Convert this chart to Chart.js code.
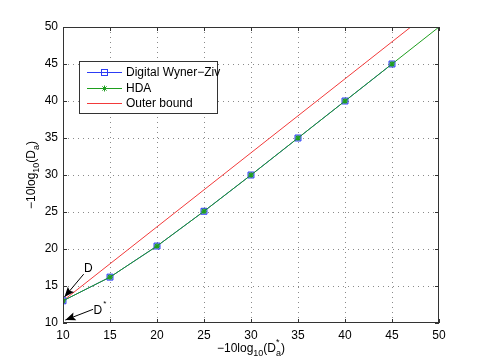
<!DOCTYPE html>
<html>
<head>
<meta charset="utf-8">
<script src="https://cdn.jsdelivr.net/npm/chart.js@4"></script>
<style>
  html, body { margin: 0; padding: 0; background: #fff; }
  #wrap { width: 485px; height: 364px; }
</style>
</head>
<body>
<div id="wrap"><canvas id="myChart"></canvas></div>
<script>
// data
let xVals = [10, 15, 20, 25, 30, 35, 40, 45];
let wynerZiv = [13, 16.2, 20.4, 25.1, 30, 35, 40, 45];
let hdaX = [10, 15, 20, 25, 30, 35, 40, 45, 50];
let hdaVals = [13, 16.2, 20.4, 25.1, 30, 35, 40, 45, 50];
let boundX = [10, 15, 20, 25, 30, 35, 40, 45, 47];
let boundVals = [13, 18, 23, 28, 33, 38, 43, 48, 50];
let tickVals = [10, 15, 20, 25, 30, 35, 40, 45, 50];

// arrow notes: [label, text x, text y, tail x, tail y, tip x, tip y]
let notes = [
  ["D", 12.7, 17.4, 12.2, 16.6, 10.15, 13.5],
  ["D*", 13.7, 11.7, 13.2, 11.85, 10.25, 10.4]
];

const FONT = "Liberation Sans, Arial, sans-serif";
const blue = "#2c3cf5";
const green = "#1e9e1e";
const red = "#f23a3a";

function pts(xs, ys) {
  return xs.map((x, i) => ({ x: x, y: ys[i] }));
}

function arrow(ctx, x1, y1, x2, y2) {
  ctx.beginPath();
  ctx.moveTo(x1, y1);
  ctx.lineTo(x2, y2);
  ctx.stroke();
  let a = Math.atan2(y2 - y1, x2 - x1);
  let len = 11, w = 0.38;
  ctx.beginPath();
  ctx.moveTo(x2, y2);
  ctx.lineTo(x2 - len * Math.cos(a - w), y2 - len * Math.sin(a - w));
  ctx.lineTo(x2 - len * 0.75 * Math.cos(a), y2 - len * 0.75 * Math.sin(a));
  ctx.lineTo(x2 - len * Math.cos(a + w), y2 - len * Math.sin(a + w));
  ctx.closePath();
  ctx.fill();
}

// text runs: [text, kind] kind: 0 normal, 1 subscript, 2 superscript
function drawRuns(ctx, runs, cx, cy) {
  let big = "12px " + FONT, small = "9px " + FONT;
  let total = 0;
  for (let r of runs) {
    ctx.font = r[1] ? small : big;
    if (r[1] !== 2) total += ctx.measureText(r[0]).width;
  }
  let x = cx - total / 2;
  ctx.textAlign = "left";
  ctx.textBaseline = "middle";
  for (let r of runs) {
    ctx.font = r[1] ? small : big;
    let dy = r[1] === 1 ? 5 : r[1] === 2 ? -6 : 0;
    ctx.fillText(r[0], x, cy + dy);
    if (r[1] !== 2) x += ctx.measureText(r[0]).width;
  }
}

const grid = {
  id: "dotgrid",
  beforeDatasetsDraw(chart) {
    const ctx = chart.ctx;
    const a = chart.chartArea;
    const xs = chart.scales.x, ys = chart.scales.y;
    ctx.save();
    ctx.strokeStyle = "#8a8a8a";
    ctx.lineWidth = 1;
    ctx.setLineDash([1, 4]);
    ctx.beginPath();
    for (let t of tickVals.slice(1, -1)) {
      let px = Math.round(xs.getPixelForValue(t)) + 0.5;
      ctx.moveTo(px, a.bottom); ctx.lineTo(px, a.top);
      let py = Math.round(ys.getPixelForValue(t)) + 0.5;
      ctx.moveTo(a.left, py); ctx.lineTo(a.right, py);
    }
    ctx.stroke();
    ctx.restore();
  }
};

const extras = {
  id: "extras",
  afterDraw(chart) {
    const ctx = chart.ctx;
    const a = chart.chartArea;
    const xs = chart.scales.x, ys = chart.scales.y;
    ctx.save();

    // box and inward ticks
    ctx.strokeStyle = "#333";
    ctx.lineWidth = 1;
    ctx.strokeRect(a.left + 0.5, a.top + 0.5, a.right - a.left - 1, a.bottom - a.top - 1);
    ctx.beginPath();
    for (let t of tickVals) {
      let px = Math.round(xs.getPixelForValue(t)) + 0.5;
      ctx.moveTo(px, a.bottom); ctx.lineTo(px, a.bottom - 4);
      ctx.moveTo(px, a.top); ctx.lineTo(px, a.top + 4);
      let py = Math.round(ys.getPixelForValue(t)) + 0.5;
      ctx.moveTo(a.left, py); ctx.lineTo(a.left + 4, py);
      ctx.moveTo(a.right, py); ctx.lineTo(a.right - 4, py);
    }
    ctx.stroke();

    // arrows and their labels
    ctx.fillStyle = "#000";
    ctx.strokeStyle = "#000";
    for (let n of notes) {
      arrow(ctx, xs.getPixelForValue(n[3]), ys.getPixelForValue(n[4]),
        xs.getPixelForValue(n[5]), ys.getPixelForValue(n[6]));
      let tx = xs.getPixelForValue(n[1]), ty = ys.getPixelForValue(n[2]);
      ctx.font = "12px " + FONT;
      ctx.textAlign = "center";
      ctx.textBaseline = "middle";
      ctx.fillText(n[0][0], tx, ty);
      if (n[0].length > 1) {
        ctx.font = "8px " + FONT;
        ctx.fillText("*", tx + 7, ty - 7);
      }
    }

    // legend box
    let lx = 79.5, ly = 61.5, lw = 138, lh = 52;
    ctx.fillStyle = "#fff";
    ctx.fillRect(lx, ly, lw, lh);
    ctx.strokeStyle = "#333";
    ctx.strokeRect(lx, ly, lw, lh);
    let items = [
      ["Digital Wyner\u2212Ziv", blue, "square"],
      ["HDA", green, "star"],
      ["Outer bound", red, null]
    ];
    items.forEach((it, i) => {
      let y = [72.5, 88.5, 103.5][i];
      ctx.strokeStyle = it[1];
      ctx.lineWidth = 1;
      ctx.beginPath();
      ctx.moveTo(87, y); ctx.lineTo(122, y);
      ctx.stroke();
      if (it[2] === "square") {
        ctx.strokeRect(101.5, y - 3, 6, 6);
      } else if (it[2] === "star") {
        ctx.beginPath();
        for (let k = 0; k < 4; k++) {
          let ang = k * Math.PI / 4;
          ctx.moveTo(104.5 - 3 * Math.cos(ang), y - 3 * Math.sin(ang));
          ctx.lineTo(104.5 + 3 * Math.cos(ang), y + 3 * Math.sin(ang));
        }
        ctx.stroke();
      }
      ctx.fillStyle = "#000";
      ctx.font = "12px " + FONT;
      ctx.textAlign = "left";
      ctx.textBaseline = "middle";
      ctx.fillText(it[0], 126, y);
    });

    // axis titles
    ctx.fillStyle = "#000";
    drawRuns(ctx, [["\u221210log", 0], ["10", 1], ["(D", 0], ["*", 2], ["a", 1], [")", 0]], 251, 349);
    ctx.translate(32, 175);
    ctx.rotate(-Math.PI / 2);
    drawRuns(ctx, [["\u221210log", 0], ["10", 1], ["(D", 0], ["a", 1], [")", 0]], 0, 0);
    ctx.restore();
  }
};

const config = {
  type: "line",
  data: {
    datasets: [
      {
        label: "Digital Wyner-Ziv",
        data: pts(xVals, wynerZiv),
        borderColor: blue,
        backgroundColor: "rgba(120,150,255,0.55)",
        borderWidth: 1,
        pointStyle: "rect",
        pointRadius: 4.2,
        pointBorderColor: blue,
        pointBackgroundColor: "rgba(120,150,255,0.55)",
        pointBorderWidth: 1,
        order: 1
      },
      {
        label: "HDA",
        data: pts(hdaX, hdaVals),
        borderColor: green,
        backgroundColor: green,
        borderWidth: 1,
        pointStyle: "star",
        pointRadius: hdaX.map(x => (x < 50 ? 2.8 : 0)),
        pointBorderColor: green,
        pointBorderWidth: 1.2,
        order: 0
      },
      {
        label: "Outer bound",
        data: pts(boundX, boundVals),
        borderColor: red,
        borderWidth: 1,
        pointRadius: 0,
        order: 2
      }
    ]
  },
  options: {
    responsive: true,
    maintainAspectRatio: false,
    animation: false,
    layout: { padding: { top: 27, right: 46, left: 0, bottom: 0 } },
    plugins: { legend: { display: false }, tooltip: { enabled: false } },
    scales: {
      x: {
        type: "linear",
        min: 10,
        max: 50,
        afterBuildTicks: (s) => { s.ticks = tickVals.map(v => ({ value: v })); },
        afterFit: (s) => { s.height = 41; },
        ticks: { color: "#000", font: { family: FONT, size: 12 }, padding: 5, maxRotation: 0 },
        grid: { color: "rgba(0,0,0,0)", drawTicks: false },
        border: { display: false }
      },
      y: {
        type: "linear",
        min: 10,
        max: 50,
        afterBuildTicks: (s) => { s.ticks = tickVals.map(v => ({ value: v })); },
        afterFit: (s) => { s.width = 63; },
        ticks: { color: "#000", font: { family: FONT, size: 12 }, padding: 5 },
        grid: { color: "rgba(0,0,0,0)", drawTicks: false },
        border: { display: false }
      }
    }
  },
  plugins: [grid, extras]
};

const myChart = new Chart(document.getElementById("myChart"), config);
</script>
</body>
</html>
